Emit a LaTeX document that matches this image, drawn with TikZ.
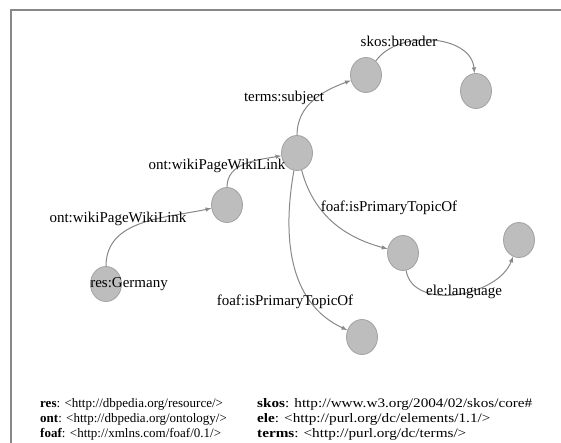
\documentclass[tikz,border=0pt]{standalone}
\usepackage{fontspec}
\setmainfont{Liberation Serif}
\newfontfamily\widefont{Liberation Serif}[FakeStretch=1.17]
\usetikzlibrary{arrows,shapes.geometric}
\definecolor{nodegray}{HTML}{BDBDBD}
\definecolor{rimgray}{HTML}{A2A2A2}
\definecolor{linegray}{HTML}{888888}

\begin{document}
\begin{tikzpicture}[x=1pt,y=-1pt,->,>=latex,
  res/.style={ellipse,draw=rimgray,fill=nodegray,line width=0.8pt,minimum width=31pt,minimum height=35pt,inner sep=0pt},
  rel/.style={draw=linegray,line width=1pt},
  lab/.style={font=\fontsize{15}{18}\selectfont,inner sep=0pt},
  ns/.style={font=\fontsize{13}{15}\selectfont,inner sep=0pt,anchor=west},
  nswide/.style={ns,font=\widefont\fontsize{13}{15}\selectfont}]
\useasboundingbox (0,0) rectangle (561,443);
\draw[-,linegray,line width=1.3pt] (561,10) -- (11,10) -- (11,443);

\node[res] (germany) at (106,284) {};
\node[res] (r1) at (227,205) {};
\node[res] (r2) at (297,153) {};
\node[res] (r3) at (366,75) {};
\node[res] (r4) at (476,91) {};
\node[res] (r5) at (403,253) {};
\node[res] (r6) at (519,240) {};
\node[res] (r7) at (362,337) {};
\node[lab,anchor=west] (glabel) at (germany.west) {res:Germany};

\draw[rel] (germany) to[out=90,in=192] (r1);
\draw[rel] (r1) to[out=90,in=190] (r2);
\draw[rel] (r2) to[out=90,in=200] (r3);
\draw[rel] (r3) to[out=55,in=95] (r4);
\draw[rel] (r2) to[out=-75,in=165] (r5);
\draw[rel] (r2) to[out=-100,in=155] (r7);
\draw[rel] (r5) to[out=-80,in=-110] (r6);

\node[lab] (l1) at (118,219) {ont:wikiPageWikiLink};
\node[lab] (l2) at (217,166) {ont:wikiPageWikiLink};
\node[lab] (l3) at (284,98) {terms:subject};
\node[lab] (l4) at (399,41) {skos:broader};
\node[lab] (l5) at (389,208) {foaf:isPrimaryTopicOf};
\node[lab] (l6) at (285,302) {foaf:isPrimaryTopicOf};
\node[lab] (l7) at (464,292) {ele:language};

% prefixes
\node[ns] (p1) at (40,404) {\textbf{res}: <http://dbpedia.org/resource/>};
\node[ns] (p2) at (40,419) {\textbf{ont}: <http://dbpedia.org/ontology/>};
\node[ns] (p3) at (40,434) {\textbf{foaf}: <http://xmlns.com/foaf/0.1/>};
\node[nswide] (p4) at (257,404) {\textbf{skos}: http://www.w3.org/2004/02/skos/core\#};
\node[nswide] (p5) at (257,419) {\textbf{ele}: <http://purl.org/dc/elements/1.1/>};
\node[nswide] (p6) at (257,434) {\textbf{terms}: <http://purl.org/dc/terms/>};
\end{tikzpicture}
\end{document}
